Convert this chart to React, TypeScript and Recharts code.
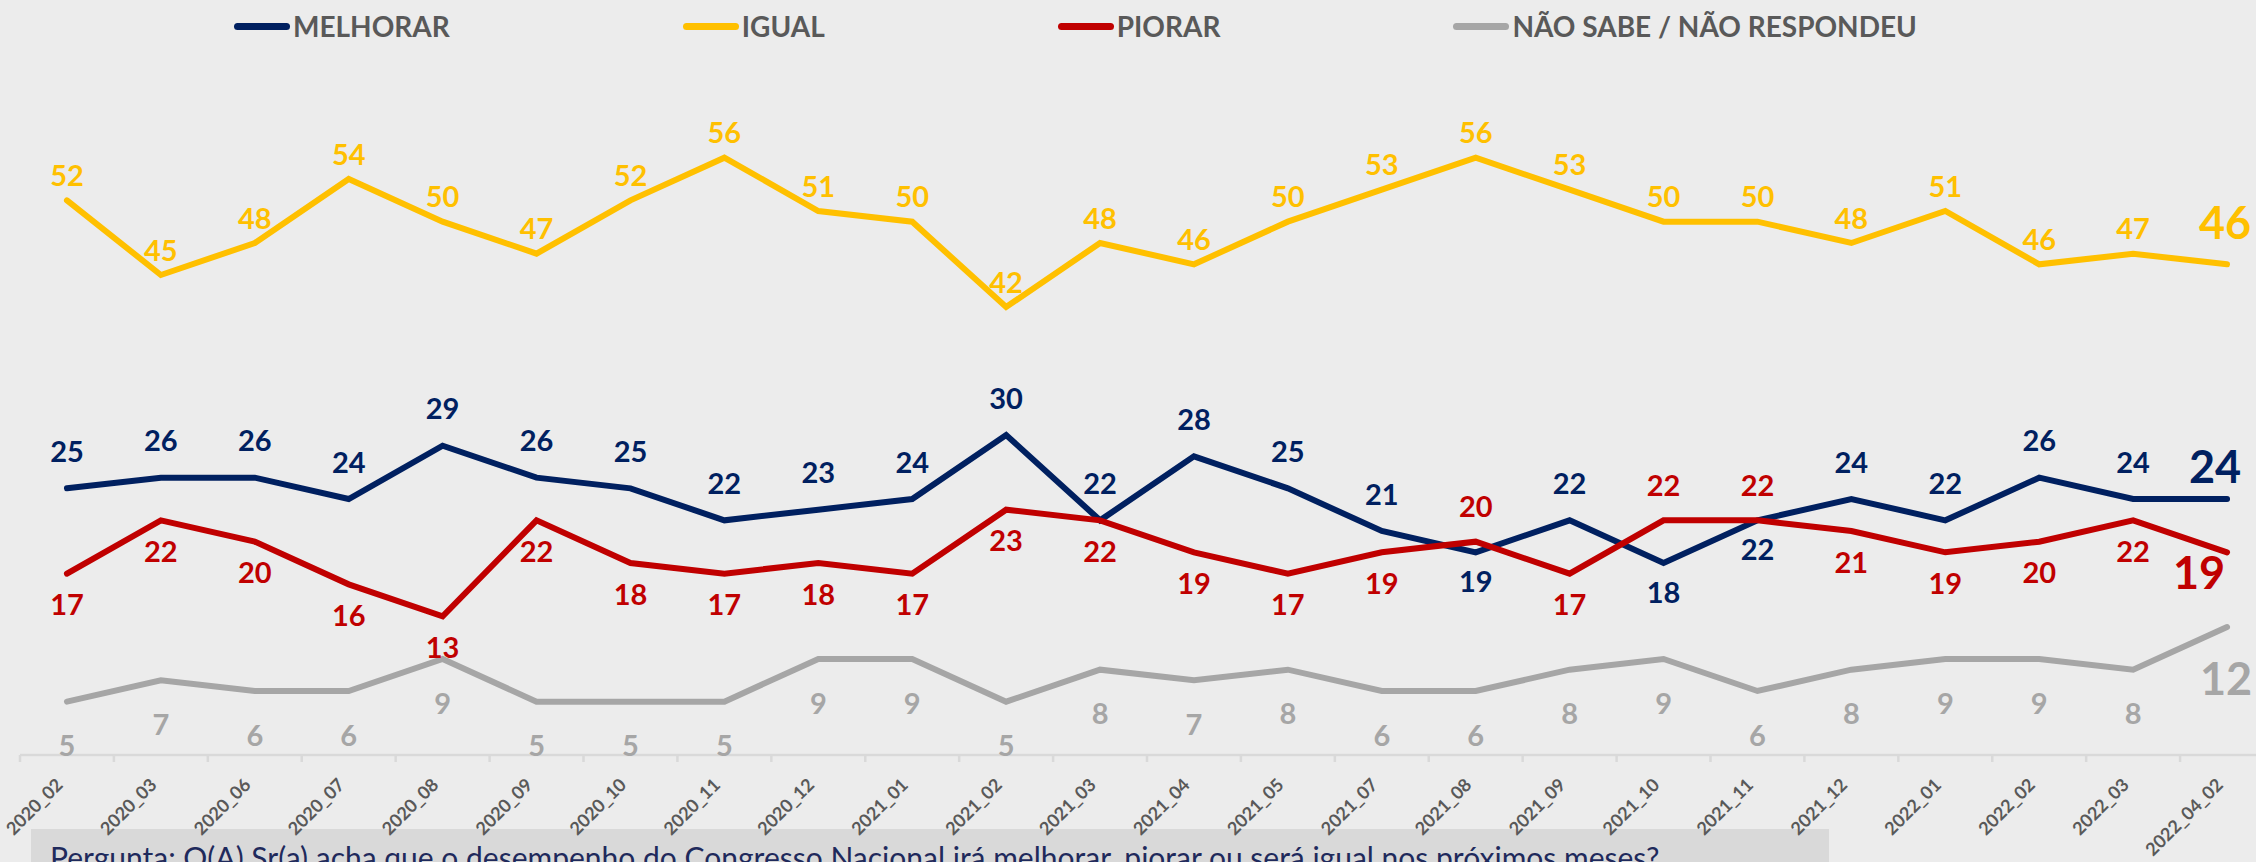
import { LineChart, Line, XAxis, YAxis, LabelList } from "recharts";

const periods = [
  "2020_02", "2020_03", "2020_06", "2020_07", "2020_08", "2020_09", "2020_10", "2020_11",
  "2020_12", "2021_01", "2021_02", "2021_03", "2021_04", "2021_05", "2021_07", "2021_08",
  "2021_09", "2021_10", "2021_11", "2021_12", "2022_01", "2022_02", "2022_03", "2022_04_02",
];
const melhorar = [25, 26, 26, 24, 29, 26, 25, 22, 23, 24, 30, 22, 28, 25, 21, 19, 22, 18, 22, 24, 22, 26, 24, 24];
const igual = [52, 45, 48, 54, 50, 47, 52, 56, 51, 50, 42, 48, 46, 50, 53, 56, 53, 50, 50, 48, 51, 46, 47, 46];
const piorar = [17, 22, 20, 16, 13, 22, 18, 17, 18, 17, 23, 22, 19, 17, 19, 20, 17, 22, 22, 21, 19, 20, 22, 19];
const naoSabe = [5, 7, 6, 6, 9, 5, 5, 5, 9, 9, 5, 8, 7, 8, 6, 6, 8, 9, 6, 8, 9, 9, 8, 12];

const question =
  "Pergunta: O(A) Sr(a) acha que o desempenho do Congresso Nacional irá melhorar, piorar ou será igual nos próximos meses?";

const data = periods.map((period, i) => ({
  period,
  melhorar: melhorar[i],
  igual: igual[i],
  piorar: piorar[i],
  naoSabe: naoSabe[i],
}));

type Key = "melhorar" | "igual" | "piorar" | "naoSabe";

const series: { key: Key; name: string; color: string }[] = [
  { key: "melhorar", name: "MELHORAR", color: "#002060" },
  { key: "igual", name: "IGUAL", color: "#FFC000" },
  { key: "piorar", name: "PIORAR", color: "#C00000" },
  { key: "naoSabe", name: "NÃO SABE / NÃO RESPONDEU", color: "#A6A6A6" },
];

const FONT = "Lato, 'Open Sans', sans-serif";
const BG = "#ECECEC";
const CHART_W = 2300;
const CHART_H = 862;
const MARGIN = { top: 115, right: 26, left: 20, bottom: 0 };
const HALF_BAND = (CHART_W - MARGIN.left - MARGIN.right) / periods.length / 2;

// label offsets (px from the point)
const ABOVE: Record<Key, number> = { melhorar: -38, igual: -26, piorar: -36, naoSabe: -30 };
const BELOW: Record<Key, number> = { melhorar: 28, igual: 28, piorar: 30, naoSabe: 43 };
const LAST_DY: Record<Key, number> = { melhorar: -33, igual: -42, piorar: 20, naoSabe: 51 };
const LAST_DX: Record<Key, number> = { melhorar: -12, igual: -2, piorar: -28, naoSabe: -1 };

// blue/red labels swap sides where the lines cross
function labelSide(key: Key, i: number) {
  if (key === "igual") return "above";
  if (key === "naoSabe") return "below";
  let blueUp = melhorar[i] > piorar[i];
  if (melhorar[i] === piorar[i] && i > 0) blueUp = melhorar[i - 1] > piorar[i - 1];
  if (key === "melhorar") return blueUp ? "above" : "below";
  return blueUp ? "below" : "above";
}

const makeLabel = (key: Key, color: string) => (props: any) => {
  const x = props.x ?? props.viewBox?.x;
  const y = props.y ?? props.viewBox?.y;
  const index = props.index;
  if (x == null || y == null) return null;
  const last = index === periods.length - 1;
  const dy = last ? LAST_DY[key] : labelSide(key, index) === "above" ? ABOVE[key] : BELOW[key];
  return (
    <text
      x={x + (last ? LAST_DX[key] : 0)}
      y={y + dy}
      fill={color}
      fontSize={last ? 45 : 29}
      fontWeight={700}
      fontFamily={FONT}
      textAnchor="middle"
      dominantBaseline="central"
    >
      {props.value}
    </text>
  );
};

const AxisTick = (props: any) => {
  const { x, y, payload, index } = props;
  return (
    <g>
      {index === 0 && (
        <line x1={x - HALF_BAND} x2={x - HALF_BAND} y1={y} y2={y + 7} stroke="#D9D9D9" strokeWidth={2.5} />
      )}
      <line x1={x + HALF_BAND} x2={x + HALF_BAND} y1={y} y2={y + 7} stroke="#D9D9D9" strokeWidth={2.5} />
      <text
        transform={`translate(${x - 3},${y + 31}) rotate(-45)`}
        textAnchor="end"
        fill="#595959"
        fontSize={18}
        fontWeight={700}
        fontFamily={FONT}
      >
        {payload.value}
      </text>
    </g>
  );
};

function LegendRow() {
  return (
    <div
      style={{
        position: "absolute",
        left: 234,
        top: 10,
        display: "flex",
        alignItems: "center",
        gap: 233,
      }}
    >
      {series.map((s) => (
        <div key={s.key} style={{ display: "flex", alignItems: "center" }}>
          <div style={{ width: 56, height: 7, borderRadius: 4, background: s.color, marginRight: 3 }} />
          <span
            style={{
              fontFamily: FONT,
              fontWeight: 700,
              fontSize: 28,
              lineHeight: "32px",
              color: "#595959",
              whiteSpace: "nowrap",
            }}
          >
            {s.name}
          </span>
        </div>
      ))}
    </div>
  );
}

export default function App() {
  return (
    <div
      style={{
        position: "absolute",
        left: 0,
        top: 0,
        width: 2256,
        height: 862,
        overflow: "hidden",
        background: BG,
      }}
    >
      {/* question box sits under the chart so the rotated ticks overlap it */}
      <div
        style={{
          position: "absolute",
          left: 31,
          top: 829,
          width: 1798,
          height: 45,
          background: "#D9D9D9",
          overflow: "hidden",
        }}
      >
        <svg width={1798} height={45}>
          <text x={19} y={40} fill="#1F2A5C" fontSize={30} fontFamily={FONT}>
            {question}
          </text>
        </svg>
      </div>
      <div style={{ position: "absolute", left: 0, top: 0 }}>
        <LineChart width={CHART_W} height={CHART_H} data={data} margin={MARGIN}>
          <YAxis hide domain={[0, 60]} />
          <XAxis
            dataKey="period"
            height={107}
            interval={0}
            tickSize={0}
            tickMargin={0}
            tickLine={false}
            axisLine={{ stroke: "#D9D9D9", strokeWidth: 2.5 }}
            padding={{ left: HALF_BAND, right: HALF_BAND }}
            tick={<AxisTick />}
          />
          {series.map((s) => (
            <Line
              key={s.key}
              dataKey={s.key}
              name={s.name}
              stroke={s.color}
              strokeWidth={6}
              strokeLinecap="round"
              dot={false}
              activeDot={false}
              isAnimationActive={false}
            >
              <LabelList dataKey={s.key} content={makeLabel(s.key, s.color)} />
            </Line>
          ))}
        </LineChart>
      </div>
      <LegendRow />
    </div>
  );
}
